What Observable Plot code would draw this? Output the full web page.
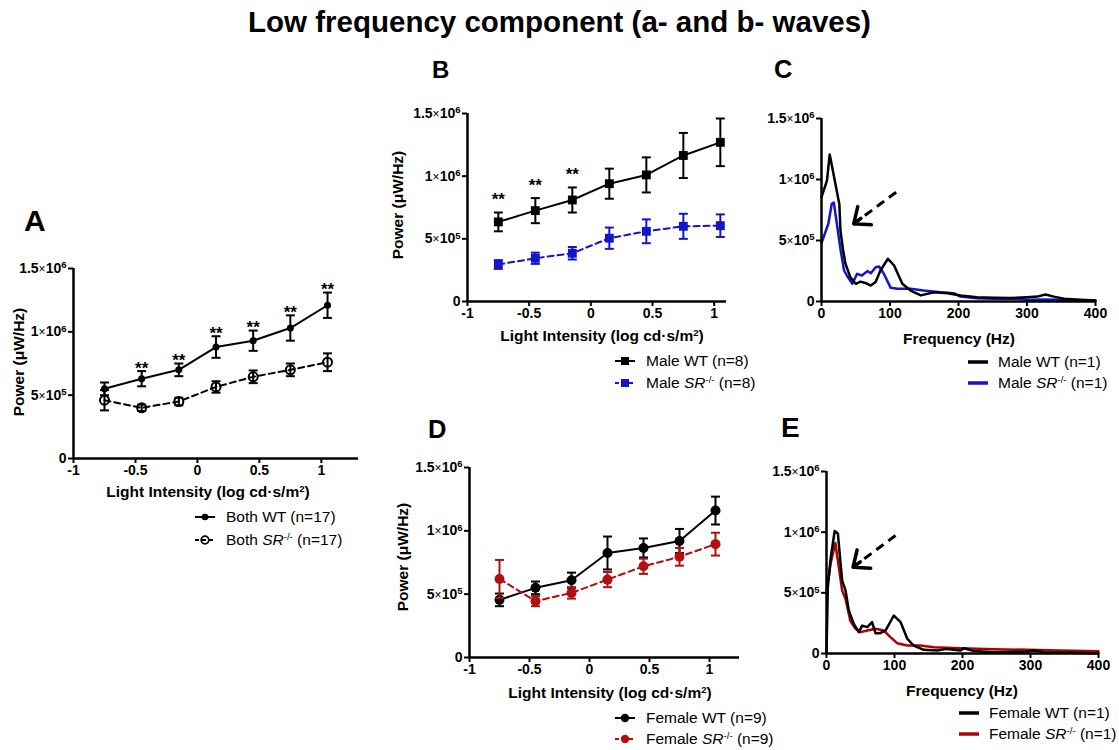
<!DOCTYPE html>
<html><head><meta charset="utf-8">
<script src="https://cdn.jsdelivr.net/npm/d3@7"></script>
<script src="https://cdn.jsdelivr.net/npm/@observablehq/plot@0.6"></script>
<style>
body{margin:0;background:#fff;font-family:"Liberation Sans",Arial,sans-serif;color:#000}
#fig{position:relative;width:1119px;height:750px;overflow:hidden;background:#fff}
.abs{position:absolute;white-space:nowrap}
.title{font-weight:bold;font-size:29.5px;left:0;width:1119px;text-align:center;top:5px}
.letter{font-weight:bold;line-height:1}
.xlab{font-weight:bold;font-size:15.5px;transform:translate(-50%,-50%)}
.ylab{font-weight:bold;font-size:15.5px;transform:translate(-50%,-50%) rotate(-90deg)}
.leg{font-size:15.5px;transform:translateY(-50%);display:flex;align-items:center}
.leg svg{margin-right:10px}
sup{font-size:0.62em;vertical-align:0.55em;line-height:0}
.plot{position:absolute}
</style></head><body><div id="fig"></div>
<script>
// ---------- data ----------
const intensity = [-0.75, -0.45, -0.15, 0.15, 0.45, 0.75, 1.05];
const xTicks = [-1, -0.5, 0, 0.5, 1];
const yTicks = [0, 5e5, 1e6, 1.5e6];
const yTickLabels = ["0", "5×10⁵", "1×10⁶", "1.5×10⁶"];
const freqTicks = [0, 100, 200, 300, 400];

// Panel A (both sexes)
const bothWT     = [5.5e5, 6.3e5, 7.0e5, 8.8e5, 9.3e5, 1.03e6, 1.21e6];
const bothWTsem  = [0.5e5, 0.6e5, 0.5e5, 0.85e5, 0.8e5, 1.0e5, 1.0e5];
const bothSR     = [4.6e5, 4.0e5, 4.5e5, 5.65e5, 6.45e5, 7.0e5, 7.6e5];
const bothSRsem  = [0.8e5, 0.25e5, 0.3e5, 0.45e5, 0.5e5, 0.5e5, 0.7e5];
const sigA       = [false, true, true, true, true, true, true];

// Panel B (male)
const maleWT     = [6.35e5, 7.25e5, 8.1e5, 9.4e5, 1.01e6, 1.165e6, 1.27e6];
const maleWTsem  = [0.75e5, 1.0e5, 1.0e5, 1.2e5, 1.4e5, 1.8e5, 1.9e5];
const maleSR     = [2.95e5, 3.45e5, 3.85e5, 5.05e5, 5.6e5, 6.0e5, 6.05e5];
const maleSRsem  = [0.35e5, 0.45e5, 0.5e5, 0.85e5, 0.95e5, 1.0e5, 0.9e5];
const sigB       = [true, true, true, false, false, false, false];

// Panel D (female)
const femaleWT    = [4.55e5, 5.5e5, 6.1e5, 8.25e5, 8.65e5, 9.2e5, 1.16e6];
const femaleWTsem = [0.5e5, 0.5e5, 0.6e5, 1.3e5, 0.75e5, 0.95e5, 1.1e5];
const femaleSR    = [6.2e5, 4.45e5, 5.1e5, 6.15e5, 7.2e5, 7.95e5, 8.95e5];
const femaleSRsem = [1.5e5, 0.4e5, 0.45e5, 0.6e5, 0.6e5, 0.7e5, 0.9e5];

// Panel C (male spectra)
const cFreqWT = [0, 8, 12, 26, 27.7, 31.6, 35, 42, 50, 57, 65, 72, 79, 86, 97, 106, 118, 130, 145, 164, 184, 203, 227, 252, 276, 300, 315, 327, 339, 354, 378, 400];
const cPowWT  = [8.55e5, 9.9e5, 1.205e6, 8.0e5, 5.8e5, 4.18e5, 3.1e5, 2.0e5, 1.45e5, 1.63e5, 1.5e5, 1.31e5, 1.6e5, 2.54e5, 3.5e5, 2.95e5, 1.45e5, 0.9e5, 0.5e5, 0.76e5, 0.68e5, 0.5e5, 0.35e5, 0.3e5, 0.28e5, 0.35e5, 0.4e5, 0.57e5, 0.4e5, 0.22e5, 0.14e5, 0.08e5];
const cFreqSR = [0, 10, 15, 18, 28, 33, 37, 45, 52, 59, 67, 72, 79, 84, 91, 101, 111, 130, 149, 174, 193, 203, 227, 252, 290, 300, 325, 349, 373, 400];
const cPowSR  = [4.78e5, 6.37e5, 8.0e5, 8.1e5, 4.18e5, 2.54e5, 2.13e5, 1.45e5, 2.27e5, 2.13e5, 2.49e5, 2.32e5, 2.81e5, 2.87e5, 2.27e5, 1.12e5, 1.04e5, 1.04e5, 0.9e5, 0.76e5, 0.68e5, 0.4e5, 0.27e5, 0.22e5, 0.22e5, 0.14e5, 0.16e5, 0.14e5, 0.08e5, 0.06e5];

// Panel E (female spectra)
const eFreqWT = [0, 2, 6, 12, 16.7, 23, 28, 32.8, 40, 47.5, 52.5, 60, 67, 72, 79, 87, 99, 109, 119, 128, 143, 163, 177, 197, 202, 217, 246, 295, 305, 320, 400];
const ePowWT  = [0, 5.5e5, 7.8e5, 1.01e6, 9.9e5, 6.0e5, 5.2e5, 3.54e5, 2.45e5, 1.76e5, 2.3e5, 2.17e5, 2.58e5, 1.67e5, 1.67e5, 1.9e5, 3.13e5, 2.58e5, 1.2e5, 0.66e5, 0.3e5, 0.25e5, 0.38e5, 0.25e5, 0.43e5, 0.2e5, 0.11e5, 0.16e5, 0.25e5, 0.11e5, 0.03e5];
const eFreqSR = [0, 6, 13, 23, 28, 35, 42.6, 50, 60, 72, 84, 94, 104, 119, 138, 158, 197, 246, 295, 344, 400];
const ePowSR  = [5.0e5, 7.4e5, 9.1e5, 5.2e5, 4.5e5, 2.7e5, 2.04e5, 1.76e5, 1.9e5, 2.04e5, 1.9e5, 1.35e5, 0.85e5, 0.66e5, 0.66e5, 0.52e5, 0.44e5, 0.36e5, 0.3e5, 0.25e5, 0.19e5];

// dashed arrows (data coordinates: Hz, power)
const arrowC = [{x1: 109, y1: 8.96e5, x2: 47, y2: 6.37e5}];
const arrowE = [{x1: 101.5, y1: 9.73e5, x2: 39, y2: 7.11e5}];

const BLUE = "#1414c8", RED = "#b01010", DARKRED = "#b00000";

// ---------- helpers ----------
const fig = document.getElementById("fig");
function addHTML(cls, style, html) {
  const d = document.createElement("div");
  d.className = "abs " + cls;
  Object.assign(d.style, style);
  d.innerHTML = html;
  fig.appendChild(d);
  return d;
}
const SVGNS = "http://www.w3.org/2000/svg";
const SUPS = "⁰¹²³⁴⁵⁶⁷⁸⁹";
// render "a×10ⁿ" tick labels with a real raised exponent and a light "×"
function styleTickLabels(svg) {
  svg.querySelectorAll('g[aria-label="y-axis tick label"] text').forEach(t => {
    const m = t.textContent.match(/^(.*)×(10)(.)$/);
    if (!m) return;
    t.textContent = m[1];
    const times = document.createElementNS(SVGNS, "tspan");
    times.setAttribute("font-weight", "normal");
    times.setAttribute("font-size", "12");
    times.textContent = "×";
    const ten = document.createElementNS(SVGNS, "tspan");
    ten.textContent = m[2];
    const ex = document.createElementNS(SVGNS, "tspan");
    ex.setAttribute("font-size", "9.5");
    ex.setAttribute("dy", "-0.5em");
    ex.textContent = String(SUPS.indexOf(m[3]));
    t.append(times, ten, ex);
  });
}
function place(svg, left, top) {
  styleTickLabels(svg);
  svg.classList.add("plot");
  svg.style.left = left + "px";
  svg.style.top = top + "px";
  fig.appendChild(svg);
}
const capSymbol = {draw(ctx, size) { const w = Math.sqrt(size / Math.PI); ctx.moveTo(-w, 0); ctx.lineTo(w, 0); }};
const baseStyle = {fontFamily: "Liberation Sans, Arial, sans-serif", fontSize: "14px", fontWeight: "bold", background: "transparent", overflow: "visible"};
const yFmt = d => yTickLabels[yTicks.indexOf(d)];

function axes(xT, xDomain0) {
  return [
    Plot.ruleY([0], {stroke: "black", strokeWidth: 2.5}),
    Plot.ruleX([xDomain0], {stroke: "black", strokeWidth: 2.5}),
    Plot.axisX({ticks: xT, tickFormat: d => String(d), tickSize: 5, tickPadding: 2, strokeWidth: 2, label: null, fontSize: 14, fontWeight: "bold"}),
    Plot.axisY({ticks: yTicks, tickFormat: yFmt, tickSize: 5, tickPadding: 2, strokeWidth: 2, label: null, fontSize: 14, fontWeight: "bold"})
  ];
}

function intensityPanel({width, height, marginLeft, marginTop, marginBottom, marginRight, xDomain, series, sig, sigDy}) {
  const marks = [...axes(xTicks, xDomain[0])];
  for (const s of series) {
    const rows = intensity.map((x, i) => ({x, y: s.mean[i], lo: s.mean[i] - s.sem[i], hi: s.mean[i] + s.sem[i]}));
    marks.push(
      Plot.line(rows, {x: "x", y: "y", stroke: s.color, strokeWidth: 2, strokeDasharray: s.dash}),
      Plot.ruleX(rows, {x: "x", y1: "lo", y2: "hi", stroke: s.color, strokeWidth: 2}),
      Plot.dot(rows, {x: "x", y: "hi", symbol: capSymbol, r: 4.5, stroke: s.color, strokeWidth: 2, fill: "none"}),
      Plot.dot(rows, {x: "x", y: "lo", symbol: capSymbol, r: 4.5, stroke: s.color, strokeWidth: 2, fill: "none"}),
      Plot.dot(rows, {x: "x", y: "y", symbol: s.symbol, r: s.r, fill: s.fill, stroke: s.color, strokeWidth: s.fill === "none" ? 2 : 0})
    );
  }
  if (sig) {
    const top = series[0];
    const rows = intensity.map((x, i) => ({x, hi: top.mean[i] + top.sem[i], sig: sig[i]})).filter(d => d.sig);
    marks.push(Plot.text(rows, {x: "x", y: "hi", text: () => "**", dy: sigDy, fontSize: 17, fontWeight: "bold"}));
  }
  return Plot.plot({
    width, height, marginLeft, marginTop, marginBottom, marginRight,
    style: baseStyle,
    x: {domain: xDomain},
    y: {domain: [0, 1.5e6]},
    marks
  });
}

function spectrumPanel({width, height, marginLeft, marginTop, marginBottom, marginRight, wt, sr, srColor, arrow}) {
  const wtRows = wt.f.map((f, i) => ({f, p: wt.p[i]}));
  const srRows = sr.f.map((f, i) => ({f, p: sr.p[i]}));
  return Plot.plot({
    width, height, marginLeft, marginTop, marginBottom, marginRight,
    style: baseStyle,
    x: {domain: [0, 400]},
    y: {domain: [0, 1.5e6]},
    marks: [
      Plot.line(srRows, {x: "f", y: "p", stroke: srColor, strokeWidth: 2.5, strokeLinejoin: "round"}),
      Plot.line(wtRows, {x: "f", y: "p", stroke: "black", strokeWidth: 2.5, strokeLinejoin: "round"}),
      ...axes(freqTicks, 0),
      Plot.link(arrow, {x1: "x1", y1: "y1", x2: "x2", y2: "y2", stroke: "black", strokeWidth: 3, strokeDasharray: "9,6"}),
      Plot.arrow(arrow, {x1: "x1", y1: "y1", x2: "x2", y2: "y2", stroke: "black", strokeWidth: 3.5, insetStart: 44, headLength: 12, headAngle: 80})
    ]
  });
}

// ---------- title & letters ----------
addHTML("title", {}, "Low frequency component (a- and b- waves)");
addHTML("letter", {left: "24px", top: "206px", fontSize: "30px"}, "A");
addHTML("letter", {left: "432px", top: "58px", fontSize: "24px"}, "B");
addHTML("letter", {left: "774px", top: "57px", fontSize: "25.5px"}, "C");
addHTML("letter", {left: "428px", top: "417px", fontSize: "25.5px"}, "D");
addHTML("letter", {left: "781px", top: "414px", fontSize: "28px"}, "E");

// ---------- panels ----------
place(intensityPanel({
  width: 370, height: 240, marginLeft: 73, marginTop: 18, marginBottom: 32, marginRight: 12,
  xDomain: [-1, 1.3], sig: sigA, sigDy: -3,
  series: [
    {mean: bothWT, sem: bothWTsem, color: "black", dash: null, symbol: "circle", r: 3.5, fill: "black"},
    {mean: bothSR, sem: bothSRsem, color: "black", dash: "6,4", symbol: "circle", r: 4.5, fill: "none"}
  ]
}), 0, 250);

place(intensityPanel({
  width: 360, height: 235, marginLeft: 87, marginTop: 18, marginBottom: 29, marginRight: 14,
  xDomain: [-1, 1.1], sig: sigB, sigDy: -13,
  series: [
    {mean: maleWT, sem: maleWTsem, color: "black", dash: null, symbol: "square", r: 5, fill: "black"},
    {mean: maleSR, sem: maleSRsem, color: BLUE, dash: "6,4", symbol: "square", r: 5, fill: BLUE}
  ]
}), 380, 95);

place(intensityPanel({
  width: 370, height: 237, marginLeft: 89, marginTop: 18, marginBottom: 29, marginRight: 11,
  xDomain: [-1, 1.25],
  series: [
    {mean: femaleWT, sem: femaleWTsem, color: "black", dash: null, symbol: "circle", r: 5, fill: "black"},
    {mean: femaleSR, sem: femaleSRsem, color: RED, dash: "6,4", symbol: "circle", r: 5, fill: RED}
  ]
}), 380, 449);

place(spectrumPanel({
  width: 359, height: 230, marginLeft: 61, marginTop: 18, marginBottom: 29, marginRight: 24,
  wt: {f: cFreqWT, p: cPowWT}, sr: {f: cFreqSR, p: cPowSR}, srColor: BLUE, arrow: arrowC
}), 760, 100);

place(spectrumPanel({
  width: 359, height: 229, marginLeft: 66, marginTop: 18, marginBottom: 29, marginRight: 21,
  wt: {f: eFreqWT, p: ePowWT}, sr: {f: eFreqSR, p: ePowSR}, srColor: DARKRED, arrow: arrowE
}), 760, 453);

// ---------- axis labels ----------
const xl = "Light Intensity (log cd·s/m<sup>2</sup>)";
const yl = "Power (μW/Hz)";
addHTML("xlab", {left: "208px", top: "492px"}, xl);
addHTML("ylab", {left: "19px", top: "362px"}, yl);
addHTML("xlab", {left: "602px", top: "336px"}, xl);
addHTML("ylab", {left: "398px", top: "205px"}, yl);
addHTML("xlab", {left: "959px", top: "339px"}, "Frequency (Hz)");
addHTML("xlab", {left: "610px", top: "693px"}, xl);
addHTML("ylab", {left: "403px", top: "557px"}, yl);
addHTML("xlab", {left: "962px", top: "691px"}, "Frequency (Hz)");

// ---------- legends ----------
function sw(color, dash, marker) {
  const line = `<line x1="1" x2="21" y1="7" y2="7" stroke="${color}" stroke-width="2" ${dash ? `stroke-dasharray="${dash}"` : ""}/>`;
  return `<svg width="22" height="14">${line}${marker || ""}</svg>`;
}
function thick(color) {
  return `<svg width="20" height="14"><line x1="0" x2="20" y1="7" y2="7" stroke="${color}" stroke-width="3.5"/></svg>`;
}
const circ = (c, fill, r) => `<circle cx="11" cy="7" r="${r}" fill="${fill}" stroke="${c}" stroke-width="${fill === 'none' ? 1.8 : 0}"/>`;
const sq = c => `<rect x="7" y="3" width="8" height="8" fill="${c}"/>`;
const SR = "<i>SR</i><sup>-/-</sup>";
const txt = s => `<span>${s}</span>`;

addHTML("leg", {left: "194px", top: "517px"}, sw("black", null, circ("black", "black", 3.3)) + txt("Both WT (n=17)"));
addHTML("leg", {left: "194px", top: "540px"}, sw("black", "4,3", circ("black", "none", 3.8)) + txt(`Both ${SR} (n=17)`));
addHTML("leg", {left: "614px", top: "361px"}, sw("black", null, sq("black")) + txt("Male WT (n=8)"));
addHTML("leg", {left: "614px", top: "383px"}, sw(BLUE, "4,3", sq(BLUE)) + txt(`Male ${SR} (n=8)`));
addHTML("leg", {left: "968px", top: "362px"}, thick("black") + txt("Male WT (n=1)"));
addHTML("leg", {left: "968px", top: "383px"}, thick(BLUE) + txt(`Male ${SR} (n=1)`));
addHTML("leg", {left: "614px", top: "718px"}, sw("black", null, circ("black", "black", 4.2)) + txt("Female WT (n=9)"));
addHTML("leg", {left: "614px", top: "739px"}, sw(RED, "4,3", circ(RED, RED, 4.2)) + txt(`Female ${SR} (n=9)`));
addHTML("leg", {left: "959px", top: "713px"}, thick("black") + txt("Female WT (n=1)"));
addHTML("leg", {left: "959px", top: "734px"}, thick(DARKRED) + txt(`Female ${SR} (n=1)`));
</script>
</body></html>
